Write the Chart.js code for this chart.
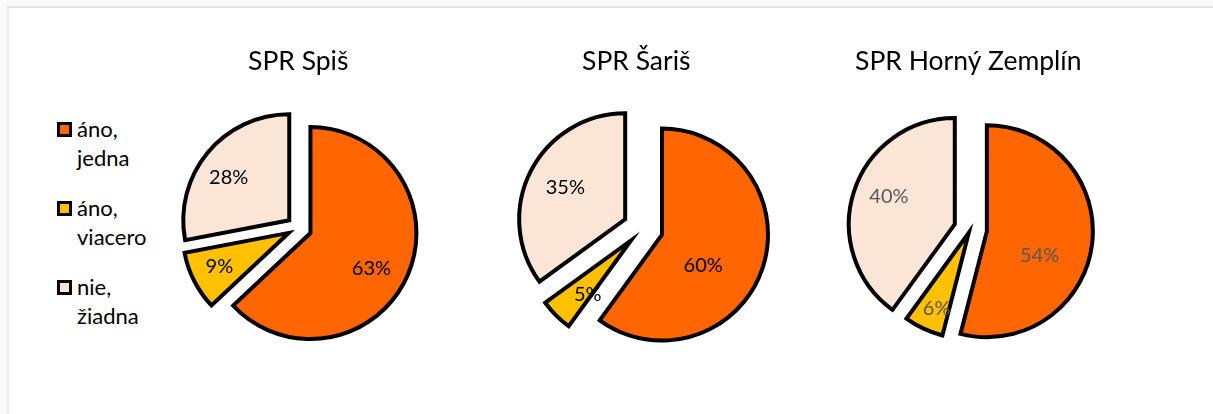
<!DOCTYPE html>
<html>
<head>
<meta charset="utf-8">
<script src="https://cdn.jsdelivr.net/npm/chart.js@4"></script>
<style>
  body { margin: 0; width: 1213px; height: 414px; background: #f9f9f9; position: relative; overflow: hidden; font-family: Lato, sans-serif; }
  #frame { position: absolute; left: 7px; top: 6px; right: 0; bottom: 0; background: #fff; border-top: 2px solid #e3e3e3; border-left: 2px solid #ececec; }
  canvas { position: absolute; top: 0; }
  #legend { position: absolute; left: 57px; top: 114px; }
  .item { position: relative; height: 79px; font-size: 22px; line-height: 29px; color: #000; padding-left: 20px; }
  .box { position: absolute; left: 0; top: 8px; width: 9px; height: 9px; border: 3px solid #000; }
</style>
</head>
<body>
<div id="frame"></div>
<div id="legend"></div>
<canvas id="spis" width="290" height="414" style="left:150px"></canvas>
<canvas id="saris" width="300" height="414" style="left:500px"></canvas>
<canvas id="zemplin" width="290" height="414" style="left:830px"></canvas>
<script>
const categories = ['áno, jedna', 'áno, viacero', 'nie, žiadna'];
const chartTitles = ['SPR Spiš', 'SPR Šariš', 'SPR Horný Zemplín'];
const spisShares = [63, 9, 28];
const sarisShares = [60, 5, 35];
const zemplinShares = [54, 6, 40];
const sliceColors = ['#FF6600', '#FFC000', '#FBE5D6'];

// legend on the left, shared by all three pies
const legend = document.getElementById('legend');
categories.forEach((name, i) => {
    const item = document.createElement('div');
    item.className = 'item';
    const box = document.createElement('span');
    box.className = 'box';
    box.style.background = sliceColors[i];
    item.appendChild(box);
    name.split(' ').forEach((word, k) => {
        if (k) item.appendChild(document.createElement('br'));
        item.appendChild(document.createTextNode(word));
    });
    legend.appendChild(item);
});

// pull slices out of the pie like Excel's "explosion" (keeps the radius the same)
const explode = {
    id: 'explode',
    afterDatasetsUpdate(chart, args, opts) {
        chart.getDatasetMeta(0).data.forEach((arc, i) => {
            const mid = (arc.startAngle + arc.endAngle) / 2;
            arc.x += Math.cos(mid) * opts.distance[i];
            arc.y += Math.sin(mid) * opts.distance[i];
        });
    }
};

// percentage labels inside the slices
const pctLabels = {
    id: 'pctLabels',
    afterDatasetsDraw(chart, args, opts) {
        const ctx = chart.ctx;
        const area = chart.chartArea;
        const cx = (area.left + area.right) / 2;
        const cy = (area.top + area.bottom) / 2;
        const values = chart.data.datasets[0].data;
        ctx.save();
        ctx.font = '20px Lato';
        ctx.fillStyle = opts.color;
        ctx.textAlign = 'center';
        ctx.textBaseline = 'middle';
        chart.getDatasetMeta(0).data.forEach((arc, i) => {
            const place = opts.place[i];
            const mid = (arc.startAngle + arc.endAngle) / 2 + place[1] * Math.PI / 180;
            const r = arc.outerRadius * place[0];
            ctx.fillText(values[i] + '%', cx + Math.cos(mid) * r, cy + Math.sin(mid) * r);
        });
        ctx.restore();
    }
};

function pieChart(id, title, shares, look) {
    return new Chart(document.getElementById(id), {
        type: 'pie',
        data: {
            labels: categories,
            datasets: [{
                data: shares,
                backgroundColor: sliceColors,
                borderColor: '#000',
                borderWidth: 4,
                borderJoinStyle: 'miter',
                clip: false
            }]
        },
        options: {
            responsive: false,
            animation: false,
            radius: 106,
            layout: { padding: look.padding },
            plugins: {
                legend: { display: false },
                tooltip: { enabled: false },
                title: {
                    display: true,
                    text: title,
                    align: 'start',
                    color: '#000',
                    font: { family: 'Lato', size: 26.5, weight: 'normal' },
                    padding: { top: 46, bottom: 0 }
                },
                explode: { distance: look.explode },
                pctLabels: { color: look.labelColor, place: look.labelPlace }
            }
        },
        plugins: [explode, pctLabels]
    });
}

pieChart('spis', chartTitles[0], spisShares, {
    explode: [13, 11, 12],
    padding: { left: 98, right: 91, top: 0, bottom: 36 },
    labelColor: '#000',
    labelPlace: [[0.79, 6], [0.83, 1], [0.81, -4]]
});
pieChart('saris', chartTitles[1], sarisShares, {
    explode: [20, 17, 20],
    padding: { left: 82, right: 96, top: 0, bottom: 35 },
    labelColor: '#000',
    labelPlace: [[0.67, 14], [0.81, -5], [0.83, 1]]
});
pieChart('zemplin', chartTitles[2], zemplinShares, {
    explode: [16.5, 4, 16.5],
    padding: { left: 25, right: 34, top: 0, bottom: 33.5 },
    labelColor: '#595959',
    labelPlace: [[0.70, 14], [0.81, -2], [0.83, 4]]
});
</script>
</body>
</html>
